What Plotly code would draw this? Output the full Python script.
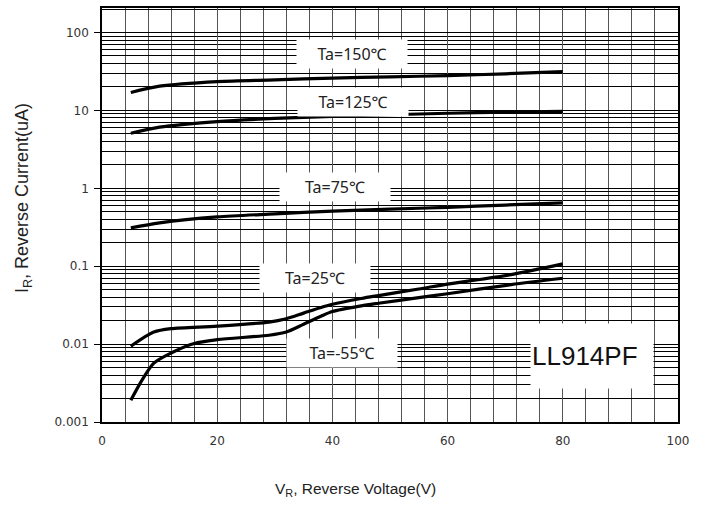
import plotly.graph_objects as go
import math

# ---- data ----
vr_150 = [5, 10, 20, 30, 40, 50, 60, 70, 80]
ir_150 = [17, 20.5, 23.5, 24.7, 26, 27, 28, 29.5, 31.5]

vr_125 = [5, 10, 20, 30, 40, 50, 60, 70, 80]
ir_125 = [5.1, 6.1, 7.2, 7.9, 8.4, 8.8, 9.2, 9.5, 9.7]

vr_75 = [5, 10, 20, 30, 40, 50, 60, 70, 80]
ir_75 = [0.31, 0.36, 0.43, 0.47, 0.51, 0.54, 0.57, 0.61, 0.65]

vr_25 = [5, 9, 12, 20, 29, 32, 35, 38, 40, 45, 48, 55, 60, 71, 80]
ir_25 = [0.0094, 0.0143, 0.0158, 0.017, 0.0192, 0.0212, 0.025, 0.0295, 0.0325, 0.0385,
         0.042, 0.051, 0.059, 0.078, 0.107]

vr_m55 = [5, 7, 9, 12, 16, 20, 29, 32, 35, 38, 40, 45, 48, 55, 60, 71, 80]
ir_m55 = [0.0019, 0.0035, 0.0057, 0.0077, 0.0102, 0.0114, 0.013, 0.0143, 0.018,
          0.0228, 0.0262, 0.031, 0.0335, 0.0395, 0.0443, 0.058, 0.070]

x_tick_vals = [0, 20, 40, 60, 80, 100]
y_tick_vals = [0.001, 0.01, 0.1, 1, 10, 100]
y_tick_text = ["0.001", "0.01", "0.1", "1", "10", "100"]

# label names and positions (x in V, y in uA)
labels = ["Ta=150℃", "Ta=125℃", "Ta=75℃", "Ta=25℃", "Ta=-55℃"]
label_x = [43.4, 43.6, 40.4, 37.0, 41.6]
label_y = [53.5, 13.0, 1.04, 0.0715, 0.0077]

part_name = "LL914PF"

fig = go.Figure()
for vx, vy in [(vr_150, ir_150), (vr_125, ir_125), (vr_75, ir_75),
               (vr_25, ir_25), (vr_m55, ir_m55)]:
    fig.add_trace(go.Scatter(x=vx, y=vy, mode="lines",
                             line=dict(color="black", width=3.2, shape="spline", smoothing=0.8),
                             showlegend=False, hoverinfo="skip"))

annotations = []
for t, lx, ly in zip(labels, label_x, label_y):
    annotations.append(dict(x=lx, y=math.log10(ly), xref="x", yref="y", text=t,
                            showarrow=False, bgcolor="white", width=108, height=26,
                            font=dict(family="Noto Sans, DejaVu Sans", size=16, color="#222")))
annotations.append(dict(x=85.1, y=math.log10(0.007), xref="x", yref="y", text=part_name,
                        showarrow=False, bgcolor="white", width=120, height=62, align="left",
                        font=dict(family="Liberation Sans, Arial", size=26, color="#111")))
annotations.append(dict(x=355, y=490, xref="paper", yref="paper", text="V<sub>R</sub>, Reverse Voltage(V)",
                        showarrow=False, xanchor="center", yanchor="middle",
                        font=dict(family="Liberation Sans, Arial", size=15.5, color="#222")))
annotations.append(dict(x=23, y=197, xref="paper", yref="paper", text="I<sub>R</sub>, Reverse Current(uA)",
                        showarrow=False, textangle=-90, xanchor="center", yanchor="middle",
                        font=dict(family="Liberation Sans, Arial", size=18, color="#222")))

# convert pixel-placed axis titles to paper coordinates
W, H = 709, 506
L, R, T, B = 102, 31, 6, 84
pw, ph = W - L - R, H - T - B
for a in annotations[-2:]:
    a["x"] = (a["x"] - L) / pw
    a["y"] = 1 - (a["y"] - T) / ph

fig.update_layout(
    width=W, height=H,
    margin=dict(l=L, r=R, t=T, b=B, pad=0),
    paper_bgcolor="white", plot_bgcolor="white",
    annotations=annotations,
    xaxis=dict(range=[0, 100], tickvals=x_tick_vals, ticks="", showgrid=True,
               gridcolor="#555", gridwidth=1.3,
               minor=dict(dtick=4, tick0=0, showgrid=True, gridcolor="#555", gridwidth=1.3),
               showline=True, linecolor="black", linewidth=1.5, mirror=True,
               zeroline=False, ticklabelstandoff=7,
               tickfont=dict(family="DejaVu Sans", size=12, color="#333")),
    yaxis=dict(type="log", range=[-3, 2.315], tickvals=y_tick_vals, ticktext=y_tick_text,
               ticks="outside", ticklen=6, tickcolor="black", showgrid=True,
               gridcolor="black", gridwidth=1.2,
               minor=dict(dtick="D1", showgrid=True, gridcolor="black", gridwidth=1),
               showline=True, linecolor="black", linewidth=1.5, mirror=True,
               zeroline=False, ticklabelstandoff=3,
               tickfont=dict(family="DejaVu Sans", size=12, color="#333")),
)

fig.write_html("out.html", config={"displayModeBar": False},
               post_script="document.body.style.margin='0';")
